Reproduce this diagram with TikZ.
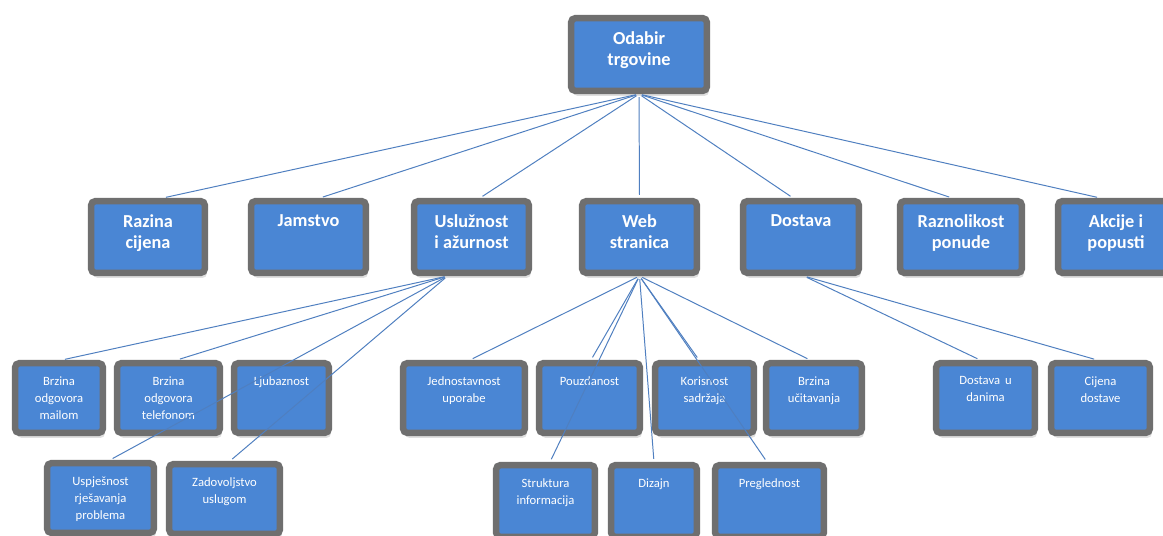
\documentclass[tikz,border=0pt]{standalone}
\usepackage{fontspec}
\setmainfont{Carlito}
\usepackage{tikz}
\usetikzlibrary{shadows}

\newdimen\pxu \pxu=0.025cm
% text box sitting at the top of a cell: outer width, outer height (px), text
\newcommand{\celltext}[3]{\parbox[c][\dimexpr#2\pxu-0.84cm\relax][t]{\dimexpr#1\pxu-0.36cm\relax}{\centering #3}}
\definecolor{boxblue}{HTML}{4A86D4}
\definecolor{boxgray}{HTML}{6F6F6F}
\definecolor{linkblue}{HTML}{4F7FC0}

\begin{document}
\begin{tikzpicture}[x=\pxu,y=-\pxu,
    main node/.style={rectangle,rounded corners=0.1cm,draw=boxgray,line width=6.5\pxu,
      fill=boxblue,text=white,inner xsep=0.1cm,inner ysep=0.34cm,
      drop shadow={shadow xshift=2\pxu,shadow yshift=-5\pxu,opacity=.25}},
    head node/.style={main node,font=\fontsize{13}{15}\selectfont\bfseries},
    leaf node/.style={main node,font=\fontsize{9}{12}\selectfont},
    link/.style={draw=linkblue,line width=0.7pt,shorten >=3\pxu,shorten <=3\pxu}]
  \useasboundingbox[fill=white] (0,0) rectangle (1163,535);
  \node[head node] (top) at (639,54.5) {\celltext{142}{79}{Odabir\\trgovine}};
  % second level
  \node[head node] (cij) at (148,237) {\celltext{120}{78}{Razina\\cijena}};
  \node[head node] (jam) at (308.5,237) {\celltext{121}{78}{Jamstvo}};
  \node[head node] (usl) at (471.5,237) {\celltext{121}{78}{Uslužnost\\i ažurnost}};
  \node[head node] (web) at (639.5,237) {\celltext{121}{78}{Web\\stranica}};
  \node[head node] (dos) at (801,237) {\celltext{122}{78}{Dostava}};
  \node[head node] (pon) at (961,237) {\celltext{128}{78}{Raznolikost\\ponude}};
  \node[head node] (akc) at (1116,237) {\celltext{122}{78}{Akcije i\\popusti}};
  % third level
  \node[leaf node] (mail) at (59,398) {\celltext{94}{76}{Brzina\\odgovora\\mailom}};
  \node[leaf node] (tel) at (168.5,398) {\celltext{109}{76}{Brzina\\odgovora\\telefonom}};
  \node[leaf node] (lju) at (281.5,398) {\celltext{101}{76}{Ljubaznost}};
  \node[leaf node] (jed) at (464,398) {\celltext{128}{76}{Jednostavnost\\uporabe}};
  \node[leaf node] (pou) at (589.5,398) {\celltext{107}{76}{Pouzdanost}};
  \node[leaf node] (kor) at (704.5,398) {\celltext{105}{76}{Korisnost\\sadržaja}};
  \node[leaf node] (uci) at (814,398) {\celltext{102}{76}{Brzina\\učitavanja}};
  \node[leaf node] (dan) at (985.5,398) {\celltext{105}{76}{Dostava\, u\\danima}};
  \node[leaf node] (cdo) at (1100.5,398) {\celltext{105}{76}{Cijena\\dostave}};
  % fourth level
  \node[leaf node] (usp) at (100.5,498) {\celltext{113}{76}{Uspješnost\\rješavanja\\problema}};
  \node[leaf node] (zad) at (224.5,499) {\celltext{117}{76}{Zadovoljstvo\\uslugom}};
  \node[leaf node] (str) at (545.5,501) {\celltext{105}{78}{Struktura\\informacija}};
  \node[leaf node] (diz) at (654,501) {\celltext{92}{78}{Dizajn}};
  \node[leaf node] (pre) at (769.5,501) {\celltext{115}{78}{Preglednost}};

  \path[link] (top.south) edge ([xshift=15\pxu]cij.north)
    edge ([xshift=11.5\pxu]jam.north)
    edge ([xshift=8.5\pxu]usl.north)
    edge (web.north)
    edge ([xshift=-8\pxu]dos.north)
    edge ([xshift=-9\pxu]pon.north)
    edge ([xshift=-16\pxu]akc.north);
  \path[link] ([xshift=-24\pxu]usl.south) edge ([xshift=3\pxu]mail.north)
    edge ([xshift=8.5\pxu]tel.north)
    edge ([xshift=9.5\pxu]usp.north)
    edge ([xshift=5.5\pxu]zad.north);
  \path[link] (web.south) edge ([xshift=6\pxu]jed.north)
    edge ([xshift=1.5\pxu]pou.north)
    edge ([xshift=4.5\pxu]str.north)
    edge (diz.north)
    edge ([xshift=-5.5\pxu]kor.north)
    edge ([xshift=-2.5\pxu]pre.north)
    edge ([xshift=-4\pxu]uci.north);
  \path[link] ([xshift=3\pxu]dos.south) edge ([xshift=-5.5\pxu]dan.north)
    edge ([xshift=-3.5\pxu]cdo.north);
\end{tikzpicture}
\end{document}
